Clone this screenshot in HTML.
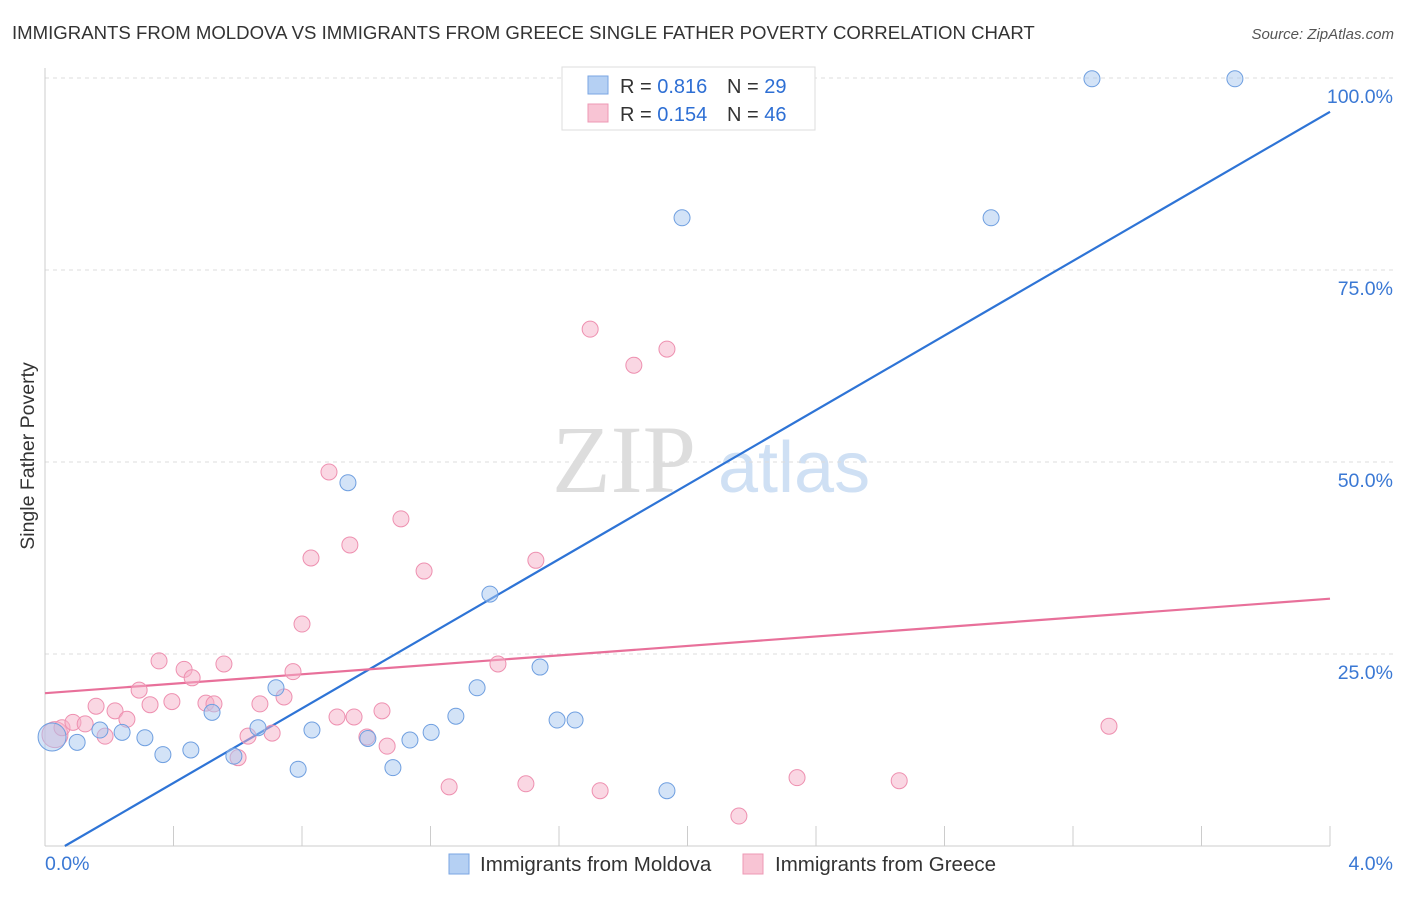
<!DOCTYPE html>
<html><head><meta charset="utf-8"><style>
body{margin:0;background:#fff;font-family:"Liberation Sans",sans-serif;}
</style></head><body>
<svg id="chart" width="1406" height="892" xmlns="http://www.w3.org/2000/svg">
<text x="12" y="39" font-size="18.6" fill="#333">IMMIGRANTS FROM MOLDOVA VS IMMIGRANTS FROM GREECE SINGLE FATHER POVERTY CORRELATION CHART</text>
<text x="1394" y="39" font-size="15" fill="#555" text-anchor="end" font-style="italic">Source: ZipAtlas.com</text>
<g>
<text x="552" y="492" font-size="96" fill="#ddd" font-family="Liberation Serif,serif">ZIP</text>
<text x="718" y="492" font-size="72" fill="#cfe0f4">atlas</text>
</g>
<g id="grid"></g>
<g id="axes"></g>
<g id="lines"></g>
<g id="points"></g>
<text transform="translate(34,456) rotate(-90)" font-size="19.5" fill="#333" text-anchor="middle">Single Father Poverty</text>
<g>
<rect x="562" y="67" width="253" height="63" fill="#fff" stroke="#ddd"/>
<rect x="588" y="76" width="20" height="18" fill="#b5d0f3" stroke="#7aa6e3"/>
<rect x="588" y="104" width="20" height="18" fill="#f8c4d4" stroke="#ee98b4"/>
<text x="620" y="93" font-size="20" fill="#333">R = <tspan fill="#2e6fd4">0.816</tspan></text>
<text x="727" y="93" font-size="20" fill="#333">N = <tspan fill="#2e6fd4">29</tspan></text>
<text x="620" y="121" font-size="20" fill="#333">R = <tspan fill="#2e6fd4">0.154</tspan></text>
<text x="727" y="121" font-size="20" fill="#333">N = <tspan fill="#2e6fd4">46</tspan></text>
</g>
<g>
<rect x="449" y="854" width="20" height="20" fill="#b5d0f3" stroke="#7aa6e3"/>
<text x="480" y="871" font-size="20.5" fill="#333">Immigrants from Moldova</text>
<rect x="743" y="854" width="20" height="20" fill="#f8c4d4" stroke="#ee98b4"/>
<text x="775" y="871" font-size="20.5" fill="#333">Immigrants from Greece</text>
</g>
</svg>
<script>
const blueX=[0.022,0.100,0.171,0.240,0.311,0.367,0.454,0.520,0.588,0.663,0.719,0.788,0.831,0.943,1.005,1.083,1.136,1.202,1.279,1.345,1.385,1.541,1.594,1.650,1.936,1.983,2.945,3.259,3.704];
const blueY=[14.2,13.5,15.1,14.8,14.1,11.9,12.5,17.4,11.7,15.4,20.6,10.0,15.1,47.3,14.0,10.2,13.8,14.8,16.9,20.6,32.8,23.3,16.4,16.4,7.2,81.8,81.8,99.9,99.9];
const pinkX=[0.031,0.053,0.087,0.125,0.159,0.187,0.218,0.255,0.293,0.327,0.355,0.395,0.433,0.458,0.501,0.526,0.557,0.601,0.632,0.669,0.707,0.744,0.772,0.800,0.828,0.884,0.909,0.949,0.962,1.002,1.049,1.065,1.108,1.180,1.258,1.410,1.497,1.528,1.697,1.728,1.833,1.936,2.160,2.341,2.659,3.312];
const pinkY=[14.5,15.4,16.1,15.9,18.2,14.3,17.6,16.5,20.3,18.4,24.1,18.8,23.0,21.9,18.6,18.5,23.7,11.5,14.3,18.5,14.7,19.4,22.7,28.9,37.5,48.7,16.8,39.2,16.8,14.2,17.6,13.0,42.6,35.8,7.7,23.7,8.1,37.2,67.3,7.2,62.6,64.7,3.9,8.9,8.5,15.6];
const blueTrend=[-1.5,95.6];
const pinkTrend=[19.9,32.2];
const yTicks=[25,50,75,100];
const yTickLabels=["25.0%","50.0%","75.0%","100.0%"];
const xTicks=[0,0.4,0.8,1.2,1.6,2.0,2.4,2.8,3.2,3.6,4.0];
const NS="http://www.w3.org/2000/svg";
const X=v=>45+v/4*1285, Y=v=>846-v*7.68;
function mk(tag,attrs,parent){const e=document.createElementNS(NS,tag);for(const k in attrs)e.setAttribute(k,attrs[k]);document.getElementById(parent).appendChild(e);return e;}
yTicks.forEach((t,i)=>{
 const l=mk('line',{x1:45,x2:1394,y1:Y(t),y2:Y(t),stroke:'#ddd','stroke-dasharray':'4,4'},'grid');
 
 
 const tx=mk('text',{x:1393,y:Y(t)+25,'font-size':19.5,fill:'#3a78d4','text-anchor':'end'},'axes');
 tx.textContent=yTickLabels[i];
 
 
});
let a=mk('line',{x1:45,x2:45,y1:68,y2:846,stroke:'#ccc'},'axes');

a=mk('line',{x1:45,x2:1330,y1:846,y2:846,stroke:'#ccc'},'axes');

xTicks.forEach(t=>{const l=mk('line',{x1:X(t),x2:X(t),y1:826,y2:846,stroke:'#ccc'},'axes');
 
 });
let t0=mk('text',{x:45,y:870,'font-size':19.5,fill:'#3a78d4'},'axes');t0.textContent='0.0%';

let t1=mk('text',{x:1393,y:870,'font-size':19.5,fill:'#3a78d4','text-anchor':'end'},'axes');t1.textContent='4.0%';

const x0=(0-blueTrend[0])/((blueTrend[1]-blueTrend[0])/4);
let bl=mk('line',{x1:X(x0),y1:Y(0),x2:X(4),y2:Y(blueTrend[1]),stroke:'#2e74d6','stroke-width':2.2},'lines');

let pl=mk('line',{x1:X(0),y1:Y(pinkTrend[0]),x2:X(4),y2:Y(pinkTrend[1]),stroke:'#e8709a','stroke-width':2.2},'lines');

pinkX.forEach((v,i)=>{const c=mk('circle',{cx:X(v),cy:Y(pinkY[i]),r:i==0?13:8,fill:'rgba(246,176,200,0.5)',stroke:'#ee90b0','stroke-width':1},'points');
 
 });
blueX.forEach((v,i)=>{const c=mk('circle',{cx:X(v),cy:Y(blueY[i]),r:i==0?14:8,fill:'rgba(168,200,240,0.5)',stroke:'#6f9fe0','stroke-width':1},'points');
 
 });
</script>
</body></html>
